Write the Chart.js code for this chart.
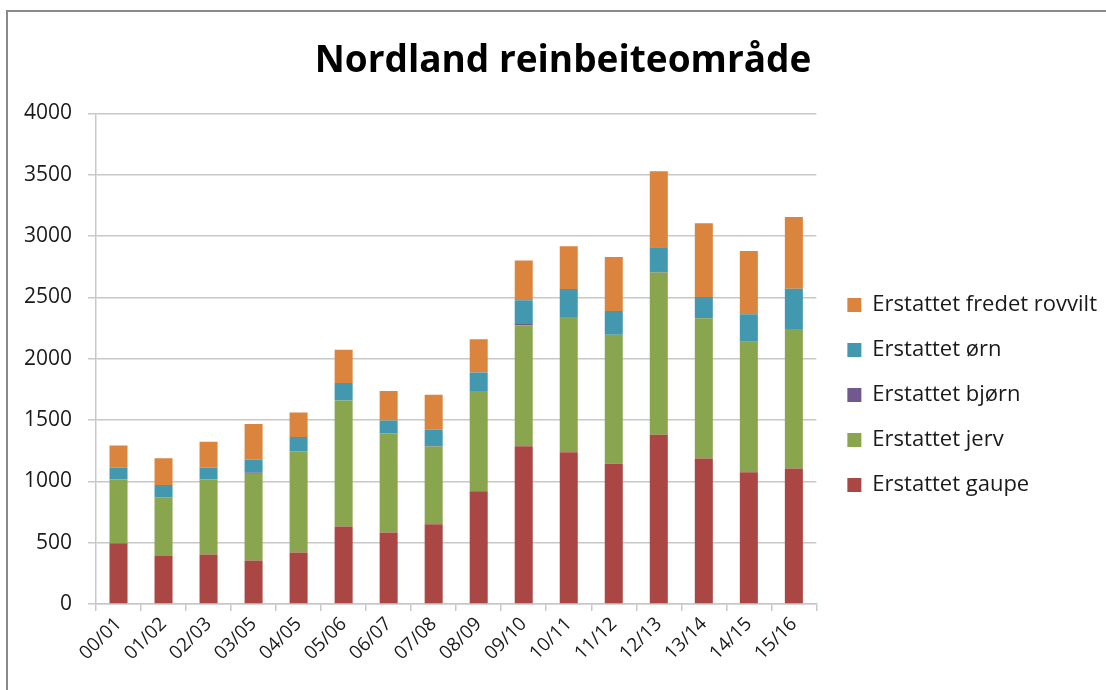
<!DOCTYPE html>
<html>
<head>
<meta charset="utf-8">
<script src="https://cdn.jsdelivr.net/npm/chart.js@4"></script>
<style>
  html, body { margin: 0; padding: 0; background: #fff; overflow: hidden; }
  #frame { position: absolute; left: 6px; top: 10px; width: 2000px; height: 2000px;
           border-top: 2px solid #8a8a8a; border-left: 2px solid #8a8a8a; }
  #wrap { position: absolute; left: 0; top: 0; width: 1126px; height: 690px; }
</style>
</head>
<body>
<div id="frame"></div>
<div id="wrap"><canvas id="chart"></canvas></div>
<script>
// seasons on the x axis
const seasons = ["00/01", "01/02", "02/03", "03/05", "04/05", "05/06", "06/07", "07/08",
  "08/09", "09/10", "10/11", "11/12", "12/13", "13/14", "14/15", "15/16"];

// compensated reindeer per predator
const gaupe = [495, 392, 403, 354, 419, 631, 582, 650, 920, 1287, 1238, 1143, 1380, 1186, 1075, 1105];
const jerv = [520, 479, 612, 707, 827, 1029, 811, 634, 816, 985, 1102, 1053, 1322, 1143, 1064, 1137];
const bjorn = [0, 0, 0, 12, 0, 0, 0, 10, 0, 10, 0, 0, 10, 0, 0, 0];
const orn = [95, 100, 95, 105, 115, 141, 104, 126, 152, 194, 229, 193, 197, 174, 223, 329];
const fredet = [182, 218, 212, 289, 201, 272, 239, 286, 270, 324, 348, 441, 620, 602, 517, 585];

const yTicks = [0, 500, 1000, 1500, 2000, 2500, 3000, 3500, 4000];

const fontFamily = "'Open Sans', 'Liberation Sans', sans-serif";
const gridColor = "#c8c8c8";

function makeDataset(label, data, color) {
  return {
    label: label,
    data: data,
    backgroundColor: color,
    borderWidth: 0,
    barPercentage: 0.4,
    categoryPercentage: 1.0,
  };
}

// the title sits a little right of the canvas centre in the original
const shiftTitle = {
  id: "shiftTitle",
  afterLayout(chart) {
    chart.titleBlock.left = 19;
  },
};

const ctx = document.getElementById("chart").getContext("2d");
const chart = new Chart(ctx, {
  type: "bar",
  data: {
    labels: seasons,
    datasets: [
      makeDataset("Erstattet gaupe", gaupe, "#AA4643"),
      makeDataset("Erstattet jerv", jerv, "#89A54E"),
      makeDataset("Erstattet bjørn", bjorn, "#71588F"),
      makeDataset("Erstattet ørn", orn, "#4198AF"),
      makeDataset("Erstattet fredet rovvilt", fredet, "#DB843D"),
    ],
  },
  plugins: [shiftTitle],
  options: {
    responsive: true,
    maintainAspectRatio: false,
    animation: false,
    layout: { padding: { top: 0, right: 19, bottom: 0, left: 0 } },
    plugins: {
      title: {
        display: true,
        text: "Nordland reinbeiteområde",
        color: "#000",
        font: { family: fontFamily, size: 37, weight: "bold", lineHeight: 1.2 },
        padding: { top: 39, bottom: 30 },
      },
      legend: {
        position: "right",
        reverse: true,
        maxWidth: 400,
        // empty title only pushes the items down a bit
        title: { display: true, text: " ", font: { size: 10, lineHeight: 1.2 }, padding: { top: 0, bottom: 88 } },
        labels: {
          color: "#1a1a1a",
          font: { family: fontFamily, size: 22 },
          boxWidth: 14,
          boxHeight: 14,
          padding: 23,
        },
      },
      tooltip: { enabled: false },
    },
    scales: {
      x: {
        stacked: true,
        grid: { drawOnChartArea: false, drawTicks: true, tickLength: 7, color: gridColor, lineWidth: 1.5 },
        border: { color: gridColor, width: 1.5 },
        ticks: { color: "#1a1a1a", font: { family: fontFamily, size: 19 }, maxRotation: 45, minRotation: 45, padding: 2 },
        afterFit: (scale) => { scale.height = 86; },
      },
      y: {
        stacked: true,
        min: 0,
        max: 4000,
        afterBuildTicks: (scale) => { scale.ticks = yTicks.map((v) => ({ value: v })); },
        grid: { color: gridColor, lineWidth: 1.5, tickLength: 8 },
        border: { color: gridColor, width: 1.5 },
        ticks: {
          color: "#1a1a1a",
          font: { family: fontFamily, size: 21 },
          padding: 16,
          callback: (value) => String(value),
        },
        afterFit: (scale) => { scale.width = 96; },
      },
      gap: {
        type: "linear",
        position: "right",
        grid: { display: false },
        border: { display: false },
        ticks: { display: false },
        afterFit: (scale) => { scale.width = 8; },
      },
    },
  },
});
</script>
</body>
</html>
